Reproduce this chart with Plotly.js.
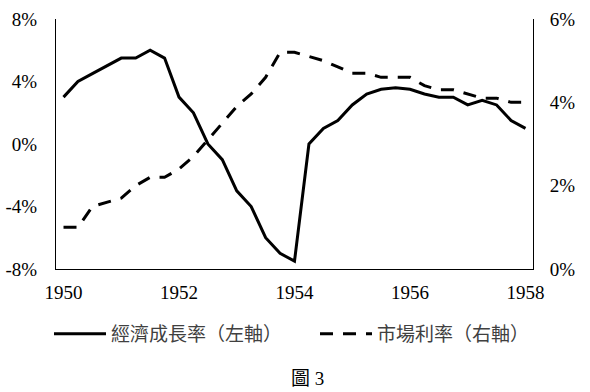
<!DOCTYPE html>
<html>
<head>
<meta charset="utf-8">
<script src="https://cdn.plot.ly/plotly-3.0.1.min.js"></script>
<style>
html,body{margin:0;padding:0;background:#fff;}
#chart{width:590px;height:392px;}
#chart svg text{font-family:'Liberation Serif','Noto Sans CJK TC',serif !important;}
</style>
</head>
<body>
<div id="chart"></div>
<script>
// Quarterly observations, 1950 to 1958
var periods = [1950, 1950.25, 1950.5, 1950.75, 1951, 1951.25, 1951.5, 1951.75,
               1952, 1952.25, 1952.5, 1952.75, 1953, 1953.25, 1953.5, 1953.75,
               1954, 1954.25, 1954.5, 1954.75, 1955, 1955.25, 1955.5, 1955.75,
               1956, 1956.25, 1956.5, 1956.75, 1957, 1957.25, 1957.5, 1957.75, 1958];

// 經濟成長率 (left axis, %)
var growthRate = [3.0, 4.0, 4.5, 5.0, 5.5, 5.5, 6.0, 5.5,
                  3.0, 2.0, 0.0, -1.0, -3.0, -4.0, -6.0, -7.0,
                  -7.5, 0.0, 1.0, 1.5, 2.5, 3.2, 3.5, 3.6,
                  3.5, 3.2, 3.0, 3.0, 2.5, 2.8, 2.5, 1.5, 1.0];

// 市場利率 (right axis, %)
var marketRate = [1.0, 1.0, 1.5, 1.6, 1.7, 2.0, 2.2, 2.2,
                  2.4, 2.7, 3.1, 3.5, 3.9, 4.2, 4.6, 5.2,
                  5.2, 5.1, 5.0, 4.85, 4.7, 4.7, 4.6, 4.6,
                  4.6, 4.4, 4.3, 4.3, 4.2, 4.1, 4.1, 4.0, 4.0];

var seriesNames = ['經濟成長率（左軸）', '市場利率（右軸）'];
var xTicks = [1950, 1952, 1954, 1956, 1958];
var xTickText = ['1950', '1952', '1954', '1956', '1958'];
var leftTicks = [-8, -4, 0, 4, 8];
var leftTickText = ['-8%', '-4%', '0%', '4%', '8%'];
var rightTicks = [0, 2, 4, 6];
var rightTickText = ['0%', '2%', '4%', '6%'];
var caption = '圖 3';

var serif = 'Liberation Serif';

var traces = [
  {
    x: periods, y: growthRate, name: seriesNames[0],
    type: 'scatter', mode: 'lines', yaxis: 'y', legend: 'legend',
    line: {color: '#000000', width: 3}
  },
  {
    x: periods, y: marketRate, name: seriesNames[1],
    type: 'scatter', mode: 'lines', yaxis: 'y2', legend: 'legend2',
    line: {color: '#000000', width: 3, dash: '13px,10px'}
  }
];

var legendBase = {
  orientation: 'h',
  xref: 'container', xanchor: 'left',
  yref: 'container', y: (392 - 334) / 392, yanchor: 'middle',
  font: {family: serif, size: 19, color: '#404040'},
  itemwidth: 52,
  bgcolor: 'rgba(0,0,0,0)', borderwidth: 0,
  itemclick: false, itemdoubleclick: false
};

var layout = {
  width: 590, height: 392,
  margin: {l: 56, r: 57, t: 19, b: 123, pad: 0},
  paper_bgcolor: '#ffffff', plot_bgcolor: '#ffffff',
  showlegend: true,
  font: {family: serif, size: 19, color: '#000000'},
  xaxis: {
    range: [1949.87, 1958.13],
    tickvals: xTicks, ticktext: xTickText,
    showgrid: false, zeroline: false,
    showline: true, linecolor: '#000000', linewidth: 1,
    ticks: '', ticklabelstandoff: 6,
    tickfont: {family: serif, size: 19, color: '#000000'},
    fixedrange: true
  },
  yaxis: {
    range: [-8, 8],
    tickvals: leftTicks, ticktext: leftTickText,
    showgrid: false, zeroline: false,
    showline: true, linecolor: '#000000', linewidth: 1,
    ticks: '', ticklabelstandoff: 14,
    tickfont: {family: serif, size: 19, color: '#000000'},
    fixedrange: true
  },
  yaxis2: {
    range: [0, 6], overlaying: 'y', side: 'right',
    tickvals: rightTicks, ticktext: rightTickText,
    showgrid: false, zeroline: false,
    showline: true, linecolor: '#000000', linewidth: 1,
    ticks: '', ticklabelstandoff: 12,
    tickfont: {family: serif, size: 19, color: '#000000'},
    fixedrange: true
  },
  legend: Object.assign({}, legendBase, {x: 49 / 590}),
  legend2: Object.assign({}, legendBase, {x: 315 / 590}),
  annotations: [{
    text: caption, showarrow: false,
    xref: 'paper', x: 0.528, xanchor: 'center',
    yref: 'paper', y: (269 - 378) / 250, yanchor: 'middle',
    font: {family: serif, size: 19, color: '#000000'}
  }]
};

Plotly.newPlot('chart', traces, layout, {displayModeBar: false, staticPlot: true});
</script>
</body>
</html>
